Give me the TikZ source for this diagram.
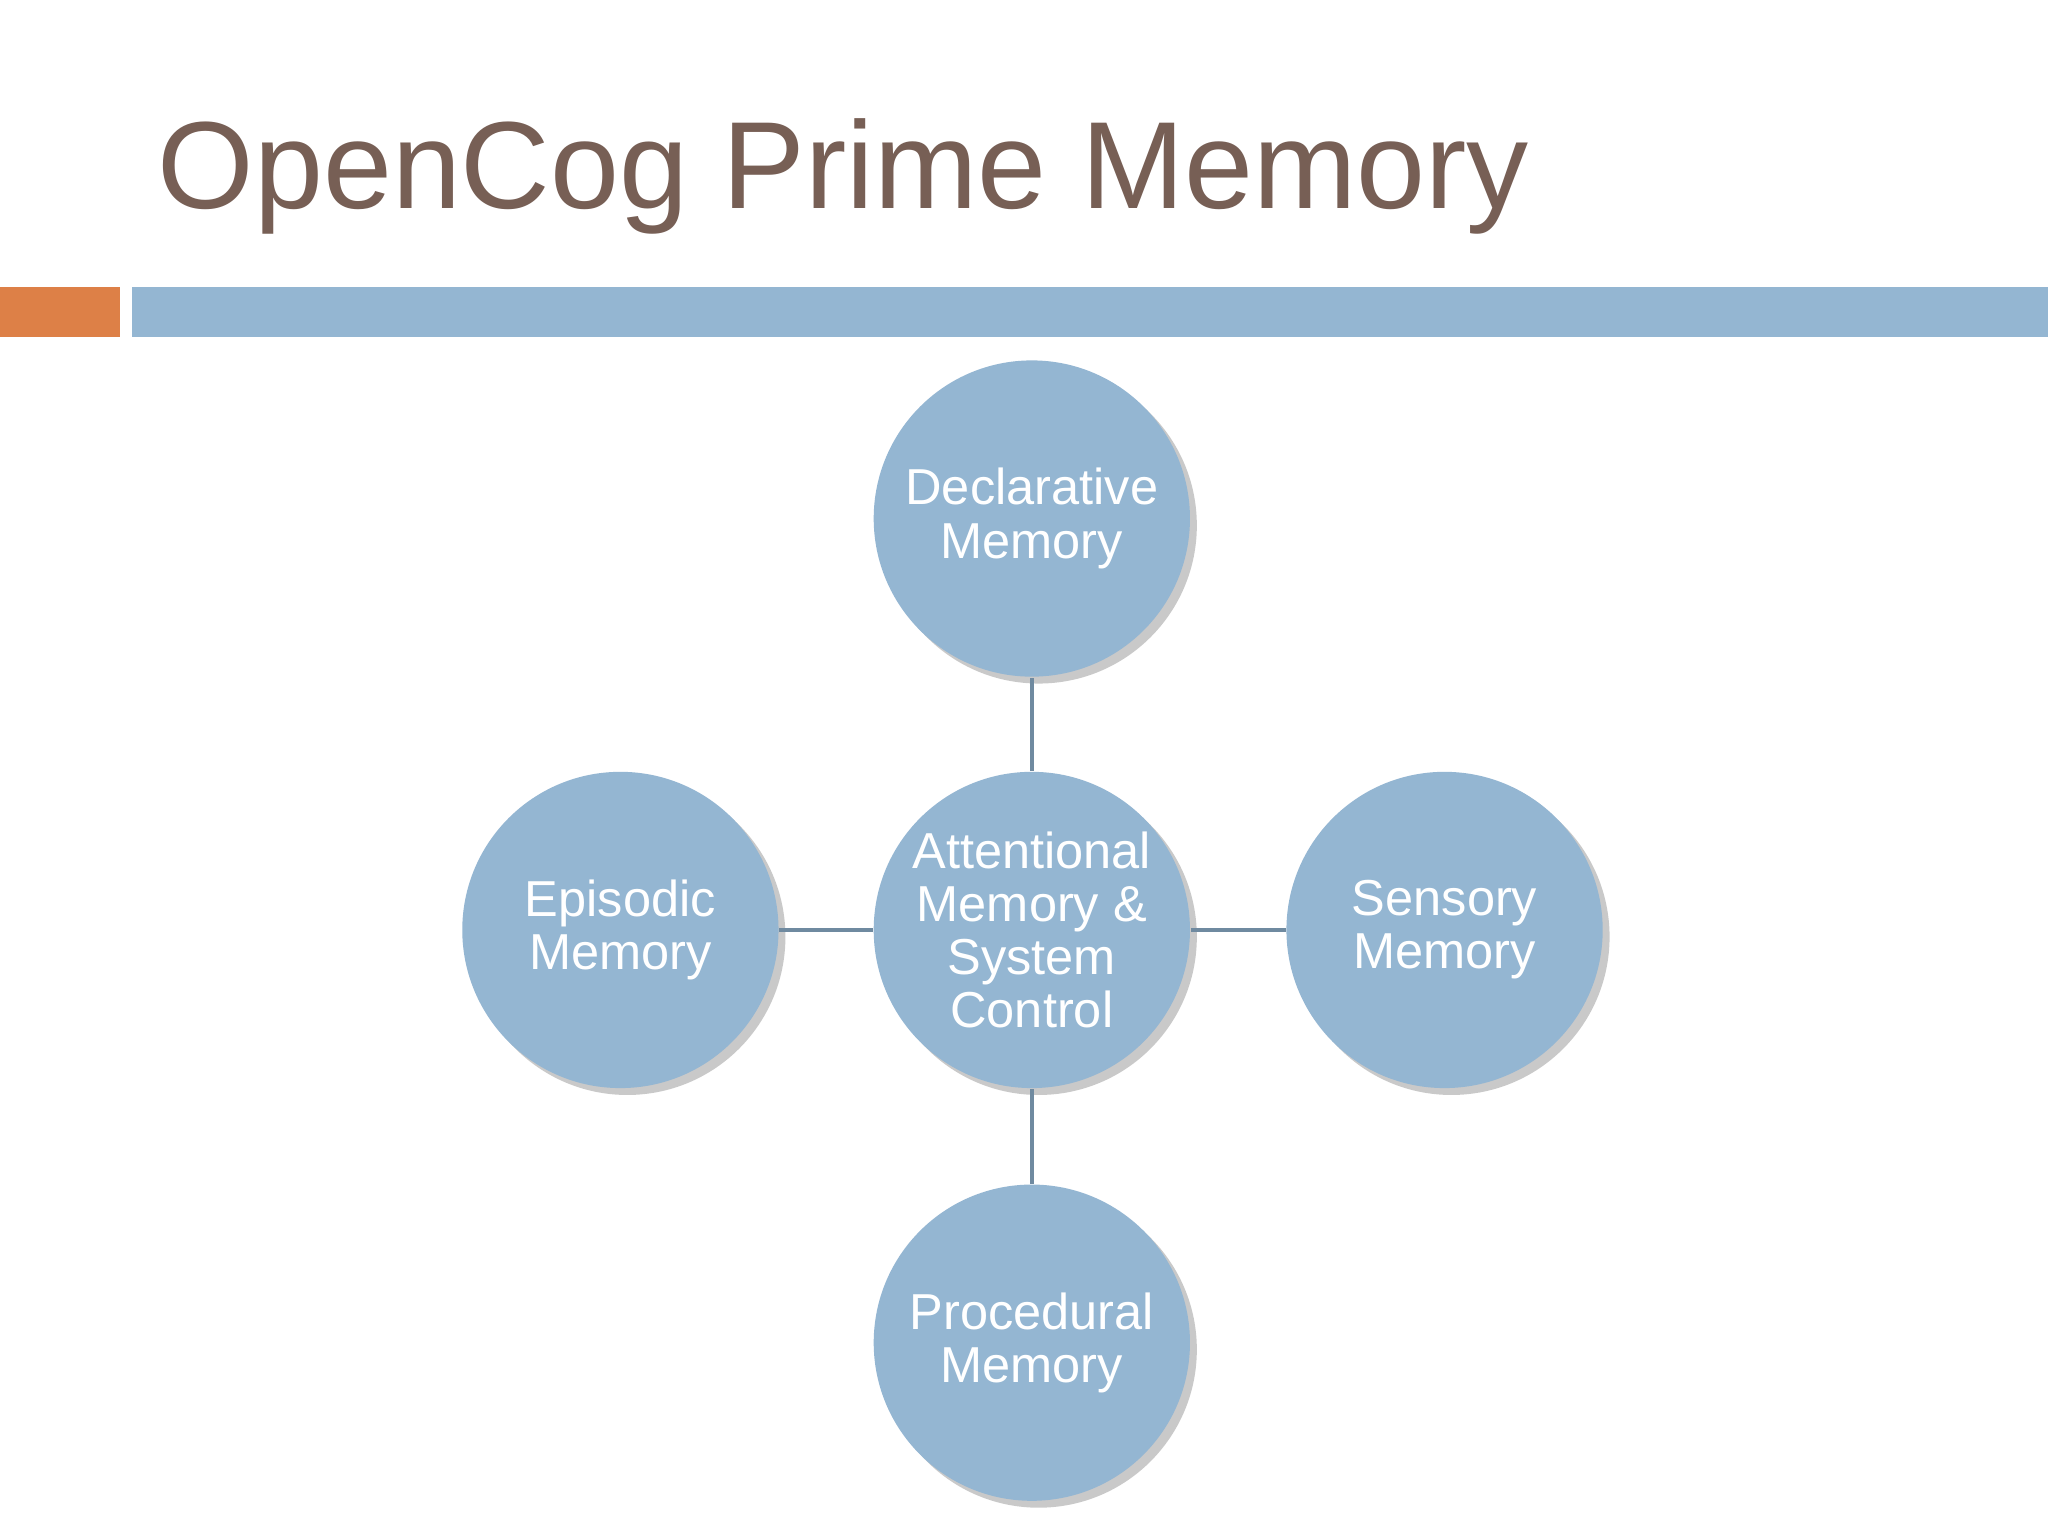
\documentclass[tikz,border=0pt]{standalone}
\usepackage{fontspec}
\setmainfont{Liberation Sans}
\usetikzlibrary{shadows}
\definecolor{bluec}{HTML}{94B6D2}
\definecolor{orangec}{HTML}{DD8047}
\definecolor{titlec}{HTML}{775F55}
\definecolor{linec}{HTML}{6F8AA0}
\begin{document}
\begin{tikzpicture}[x=0.01cm,y=-0.01cm,
  mem/.style={circle,fill=bluec,minimum size=2.42cm,inner sep=0pt,text=white,align=center,
    font=\fontsize{11}{11.6}\selectfont,
    drop shadow={shadow xshift=1.5pt,shadow yshift=-1.5pt,opacity=0.35,fill=black!60}},
  link/.style={draw=linec,line width=0.8pt}]
\useasboundingbox[fill=white] (0,0) rectangle (1568,1176);
\node[anchor=base west,text=titlec,font=\fontsize{27}{30}\selectfont,inner sep=0pt] (title) at (120,160) {OpenCog Prime Memory};
\fill[orangec] (0,220) rectangle (92,258);
\fill[bluec] (101,220) rectangle (1568,258);
\node[mem] (c) at (790,712) {Attentional\\Memory \&\\System\\Control};
\node[mem] (t) at (790,397) {Declarative\\Memory};
\node[mem] (l) at (475,712) {Episodic\\Memory};
\node[mem] (r) at (1106,712) {Sensory\\Memory};
\node[mem] (b) at (790,1028) {Procedural\\Memory};
\draw[link] (c) -- (t);
\draw[link] (c) -- (l);
\draw[link] (c) -- (r);
\draw[link] (c) -- (b);
\end{tikzpicture}
\end{document}
